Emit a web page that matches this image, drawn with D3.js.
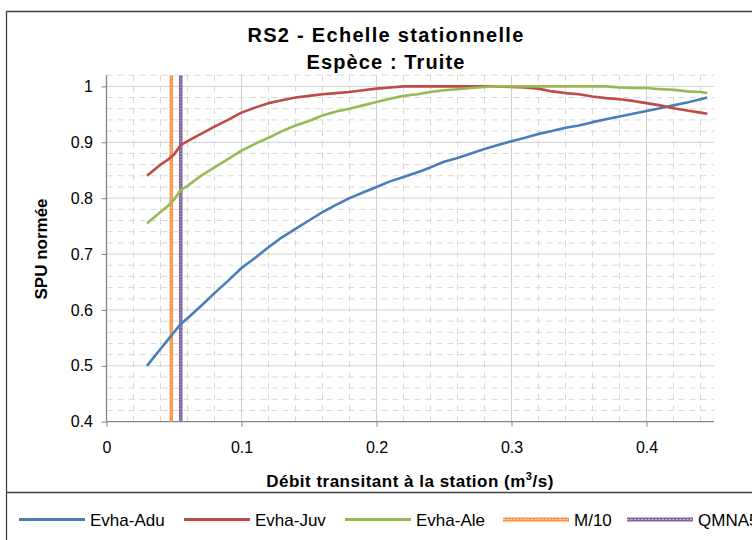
<!DOCTYPE html>
<html>
<head>
  <meta charset="utf-8">
  <title>RS2 - Echelle stationnelle</title>
  <script src="https://d3js.org/d3.v7.min.js"></script>
  <style>
    body { margin: 0; background: #fff; }
    text { font-family: "Liberation Sans", Arial, sans-serif; }
  </style>
</head>
<body>

  <svg width="752" height="540"></svg>

  <script>

    // Debit (m3/s) and normalised SPU for each life stage
    const debit = [0.03, 0.035, 0.04, 0.045, 0.05, 0.055, 0.06, 0.07, 0.08, 0.09,
      0.10, 0.11, 0.12, 0.13, 0.14, 0.15, 0.16, 0.17, 0.18, 0.19,
      0.20, 0.21, 0.22, 0.23, 0.24, 0.25, 0.26, 0.27, 0.28, 0.29,
      0.30, 0.31, 0.32, 0.33, 0.34, 0.35, 0.36, 0.37, 0.38, 0.39,
      0.40, 0.41, 0.42, 0.43, 0.44, 0.445];
    const evhaAdu = [0.500, 0.515, 0.530, 0.545, 0.560, 0.575, 0.585, 0.607, 0.630, 0.652,
      0.675, 0.693, 0.712, 0.730, 0.745, 0.760, 0.775, 0.788, 0.800, 0.810,
      0.820, 0.830, 0.838, 0.846, 0.855, 0.865, 0.872, 0.880, 0.888, 0.895,
      0.902, 0.908, 0.915, 0.920, 0.926, 0.930, 0.936, 0.941, 0.946, 0.951,
      0.956, 0.961, 0.966, 0.971, 0.977, 0.980];
    const evhaJuv = [0.840, 0.850, 0.860, 0.868, 0.878, 0.895, 0.902, 0.915, 0.928, 0.940,
      0.953, 0.962, 0.970, 0.975, 0.980, 0.983, 0.986, 0.988, 0.990, 0.993,
      0.996, 0.998, 1.000, 1.000, 1.000, 1.000, 1.000, 1.000, 1.000, 1.000,
      0.999, 0.998, 0.996, 0.991, 0.988, 0.986, 0.982, 0.979, 0.977, 0.974,
      0.970, 0.966, 0.961, 0.957, 0.953, 0.951];
    const evhaAle = [0.755, 0.765, 0.775, 0.785, 0.797, 0.815, 0.822, 0.840, 0.855, 0.870,
      0.885, 0.897, 0.908, 0.920, 0.930, 0.938, 0.948, 0.955, 0.960, 0.966,
      0.972, 0.978, 0.983, 0.986, 0.990, 0.993, 0.995, 0.997, 0.999, 1.000,
      1.000, 1.000, 1.000, 1.000, 1.000, 1.000, 1.000, 1.000, 0.998, 0.997,
      0.997, 0.995, 0.994, 0.991, 0.990, 0.988];

    // Reference flows (vertical lines)
    const refNames = ["M/10", "QMNA5"];
    const refValues = [0.048, 0.055];

    const xTicks = [0, 0.1, 0.2, 0.3, 0.4];
    const yTicks = [0.4, 0.5, 0.6, 0.7, 0.8, 0.9, 1];

    const series = [
      { name: "Evha-Adu", values: evhaAdu, color: "#4A7EBB" },
      { name: "Evha-Juv", values: evhaJuv, color: "#BE4B48" },
      { name: "Evha-Ale", values: evhaAle, color: "#98B954" }
    ];
    const refColors = ["#F79646", "#8064A2"];
    const refLight = ["#FCD5B4", "#CCC0DA"];

    const svg = d3.select("svg");

    const x = d3.scaleLinear().domain([0, 0.45]).range([106.5, 714]);
    const y = d3.scaleLinear().domain([0.4, 1.02]).range([421.7, 75.2]);

    // chart frame
    svg.append("path")
      .attr("d", "M6.5,540 V11.5 H752")
      .attr("fill", "none").attr("stroke", "#404040").attr("stroke-width", 1.3);
    svg.append("line")
      .attr("x1", 6).attr("x2", 752).attr("y1", 492.5).attr("y2", 492.5)
      .attr("stroke", "#404040").attr("stroke-width", 1.3);

    // minor gridlines (dashed)
    const minorX = d3.range(0.02, 0.451, 0.02).filter(v => Math.abs(v * 10 - Math.round(v * 10)) > 1e-6);
    const minorY = d3.range(0.42, 1.021, 0.02).filter(v => Math.abs(v * 10 - Math.round(v * 10)) > 1e-6);
    const grid = svg.append("g");
    grid.selectAll(".mx").data(minorX).enter().append("line")
      .attr("x1", d => x(d)).attr("x2", d => x(d))
      .attr("y1", y.range()[1]).attr("y2", y.range()[0])
      .attr("stroke", "#D9D9D9").attr("stroke-dasharray", "6,5");
    grid.selectAll(".my").data(minorY).enter().append("line")
      .attr("x1", x.range()[0]).attr("x2", x.range()[1])
      .attr("y1", d => y(d)).attr("y2", d => y(d))
      .attr("stroke", "#D9D9D9").attr("stroke-dasharray", "6,5");

    // major gridlines
    grid.selectAll(".gx").data(xTicks.slice(1)).enter().append("line")
      .attr("x1", d => x(d)).attr("x2", d => x(d))
      .attr("y1", y.range()[1]).attr("y2", y.range()[0])
      .attr("stroke", "#D0D0D0");
    grid.selectAll(".gy").data(yTicks.slice(1)).enter().append("line")
      .attr("x1", x.range()[0]).attr("x2", x.range()[1])
      .attr("y1", d => y(d)).attr("y2", d => y(d))
      .attr("stroke", "#D0D0D0");

    // axes
    const xAxis = svg.append("g")
      .attr("transform", `translate(0,${y(0.4)})`)
      .call(d3.axisBottom(x).tickValues(xTicks).tickFormat(d3.format("")).tickSize(5).tickPadding(15));
    const yAxis = svg.append("g")
      .attr("transform", `translate(${x(0)},0)`)
      .call(d3.axisLeft(y).tickValues(yTicks).tickFormat(d3.format("")).tickSize(5).tickPadding(8.5));
    [xAxis, yAxis].forEach(a => {
      a.select(".domain").attr("stroke", "#868686").attr("stroke-width", 1.3);
      a.selectAll(".tick line").attr("stroke", "#868686");
      a.selectAll("text").attr("font-size", 16).attr("fill", "#000")
        .attr("font-family", "Liberation Sans, Arial, sans-serif");
    });
    xAxis.select(".domain").attr("d", `M${x.range()[0]},0H${x.range()[1]}`);
    yAxis.select(".domain").attr("d", `M0,${y.range()[0]}V${y.range()[1]}`);

    // reference vertical lines
    refValues.forEach((v, i) => {
      svg.append("line")
        .attr("x1", x(v)).attr("x2", x(v))
        .attr("y1", y.range()[1]).attr("y2", y.range()[0])
        .attr("stroke", refColors[i]).attr("stroke-width", 3.5);
      svg.append("line")
        .attr("x1", x(v)).attr("x2", x(v))
        .attr("y1", y.range()[1]).attr("y2", y.range()[0])
        .attr("stroke", refLight[i]).attr("stroke-width", 1).attr("stroke-dasharray", "1,2");
    });

    // series lines
    const line = d3.line().x((d, i) => x(debit[i])).y(d => y(d));
    series.forEach(s => {
      svg.append("path")
        .attr("d", line(s.values))
        .attr("fill", "none")
        .attr("stroke", s.color)
        .attr("stroke-width", 2.6)
        .attr("stroke-linejoin", "round");
    });

    // titles
    svg.append("text")
      .attr("x", 386).attr("y", 42).attr("text-anchor", "middle")
      .attr("font-size", 20).attr("font-weight", "bold").attr("letter-spacing", 1.3)
      .text("RS2 - Echelle stationnelle");
    svg.append("text")
      .attr("x", 386).attr("y", 69).attr("text-anchor", "middle")
      .attr("font-size", 20).attr("font-weight", "bold").attr("letter-spacing", 1.1)
      .text("Espèce : Truite");

    svg.append("text")
      .attr("transform", "translate(47,249) rotate(-90)")
      .attr("text-anchor", "middle")
      .attr("font-size", 17).attr("font-weight", "bold")
      .text("SPU normée");

    const xt = svg.append("text")
      .attr("x", 410).attr("y", 487).attr("text-anchor", "middle")
      .attr("font-size", 17).attr("font-weight", "bold").attr("letter-spacing", 0.5);
    xt.append("tspan").text("Débit transitant à la station (m");
    xt.append("tspan").attr("font-size", 11).attr("dy", -7).text("3");
    xt.append("tspan").attr("dy", 7).text("/s)");

    // legend
    const legend = [
      { name: "Evha-Adu", color: series[0].color, x0: 19 },
      { name: "Evha-Juv", color: series[1].color, x0: 184 },
      { name: "Evha-Ale", color: series[2].color, x0: 345 },
      { name: refNames[0], color: refColors[0], light: refLight[0], x0: 503 },
      { name: refNames[1], color: refColors[1], light: refLight[1], x0: 627 }
    ];
    const lg = svg.append("g");
    legend.forEach(l => {
      lg.append("line")
        .attr("x1", l.x0).attr("x2", l.x0 + 66)
        .attr("y1", 519.5).attr("y2", 519.5)
        .attr("stroke", l.color).attr("stroke-width", l.light ? 4 : 3.2);
      if (l.light) {
        lg.append("line")
          .attr("x1", l.x0).attr("x2", l.x0 + 66)
          .attr("y1", 519.5).attr("y2", 519.5)
          .attr("stroke", l.light).attr("stroke-width", 1.2).attr("stroke-dasharray", "2,1.5");
      }
      lg.append("text")
        .attr("x", l.x0 + 71).attr("y", 526)
        .attr("font-size", 17)
        .text(l.name);
    });

  </script>

</body>
</html>
